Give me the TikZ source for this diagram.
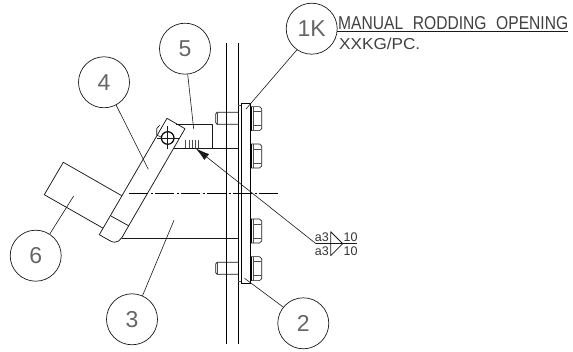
\documentclass[tikz,border=0pt]{standalone}
\usepackage{fontspec}
\setmainfont{Liberation Sans}
\usetikzlibrary{arrows.meta}
\definecolor{ink}{gray}{0.1}
\tikzset{
  mainline/.style={draw=ink,line width=0.75pt,line join=round},
  heavyline/.style={draw=black,line width=1pt},
  thinline/.style={draw=ink,line width=0.6pt},
  nutline/.style={draw=black!70,line width=0.5pt},
  balloon/.style={circle,draw=ink,line width=0.7pt,minimum size=51pt,inner sep=0pt,font=\fontsize{23}{23}\selectfont,text=black!60},
  cadtext/.style={inner sep=0pt,anchor=base west,text=black!75},
  weldtext/.style={inner sep=0pt,font=\fontsize{12.5}{12.5}\selectfont,text=black!80}
}
\begin{document}
\begin{tikzpicture}[x=1pt,y=-1pt]
\useasboundingbox (0,0) rectangle (573,352);
% wall
\draw[heavyline] (226.5,43) -- (226.5,344);
\draw[heavyline] (238.3,43) -- (238.3,344);
% plate
\draw[heavyline] (241,103.5) rectangle (250.3,283.5);
\draw[nutline] (238.3,105) -- (241,105) (238.3,281.5) -- (241,281.5);
% bolts, left stubs
\draw[mainline] (238.3,112.3) -- (217,112.3) -- (215.7,114) -- (215.7,122.6) -- (217,124.3) -- (238.3,124.3);
\draw[nutline] (217.6,112.3) -- (217.6,124.3);
\draw[mainline] (238.3,262.3) -- (217,262.3) -- (215.7,264) -- (215.7,272.6) -- (217,274.3) -- (238.3,274.3);
\draw[nutline] (217.6,262.3) -- (217.6,274.3);
% nuts
\foreach \ny in {106.7,144,219,256.7}{
  \draw[heavyline] (251,\ny) -- (251,\ny+24);
  \draw[thinline] (251,\ny) -- (259.5,\ny) -- (261.7,\ny+2) -- (261.7,\ny+22) -- (259.5,\ny+24) -- (251,\ny+24);
  \draw[nutline] (253.5,\ny) -- (253.5,\ny+24) (253.5,\ny+5) -- (261,\ny+5) (253.5,\ny+19) -- (261,\ny+19);
}
% part 5
\draw[mainline] (176,124) -- (212.7,124) -- (212.7,148.3);
\draw[mainline] (174,148.3) -- (238.3,148.3);
\foreach \hx in {185.7,188.9,192.1,195.3,198.5}{\draw[thinline,draw=black!70] (\hx,140.5) -- (\hx,147.7);}
% part 3 lower edge
\draw[mainline] (121.7,238.7) -- (238.3,238.7);
% part 4 link
\draw[mainline] (167,118.3) -- (185,128.7) -- (124.5,233) .. controls (121,240) and (117,245) .. (109.5,240.5) -- (99.3,234.7) -- cycle;
\draw[mainline] (111,216) -- (129,226);
\draw[thinline] (160,125) -- (156.7,128.5) -- (156.7,135) -- (161,137);
% pin
\draw[heavyline,line width=1.2pt] (167.7,138) circle (6.3);
\draw[thinline] (167.7,126.5) -- (167.7,149.5) (157,138) -- (178.5,138);
% part 6
\draw[mainline] (121.7,195.7) -- (63.3,162.3) -- (44.3,194.7) -- (102.7,228);
% center line
\draw[thinline,draw=black,dash pattern=on 19pt off 2.5pt on 2pt off 2.5pt] (129.3,193.3) -- (278,193.3);
% balloons
\node[balloon] (c1) at (311.7,28.7) {1K};
\node[balloon] (c5) at (185,48.7) {5};
\node[balloon] (c4) at (104,82.3) {4};
\node[balloon] (c6) at (35.7,255.7) {6};
\node[balloon] (c3) at (132,319.3) {3};
\node[balloon] (c2) at (303.3,323.3) {2};
\coordinate (t1) at (246,109);
\coordinate (t5) at (193.7,129);
\coordinate (t4) at (148.3,169.3);
\coordinate (t6) at (73.7,196);
\coordinate (t3) at (174,220.3);
\coordinate (t2) at (244.5,278.3);
\draw[thinline] (c1.235) -- (t1);
\draw[thinline] (c5.-84) -- (t5);
\draw[thinline] (c4.-62) -- (t4);
\draw[thinline] (c6.57) -- (t6);
\draw[thinline] (c3.66) -- (t3);
\draw[thinline] (c2.141) -- (t2);
% weld symbol
\coordinate (weldtip) at (195.7,148.3);
\coordinate (weldknee) at (316,243.7);
\coordinate (weldend) at (356.7,243.7);
\draw[thinline,-{Latex[length=14pt,width=7.5pt]}] (weldknee) -- (weldtip);
\draw[thinline] (weldknee) -- (weldend);
\draw[mainline] (330.7,231.7) -- (342.7,243.7) -- (330.7,255.7) -- cycle;
\node[weldtext,anchor=base east] (wa) at (329,241.5) {a3};
\node[weldtext,anchor=base east] (wb) at (329,255.5) {a3};
\node[weldtext,anchor=base west] (wc) at (343.5,241.5) {10};
\node[weldtext,anchor=base west] (wd) at (343.5,255.5) {10};
% title
\node[cadtext] (title) at (338,29.5) {\resizebox{230pt}{13pt}{\fontsize{18}{18}\selectfont\spaceskip=0.62em MANUAL RODDING OPENING}};
\draw[thinline] (337,31) -- (568,31);
\node[cadtext] (weight) at (339,49.3) {\resizebox{81pt}{11.5pt}{\fontsize{15}{15}\selectfont XXKG/PC.}};
\end{tikzpicture}
\end{document}
